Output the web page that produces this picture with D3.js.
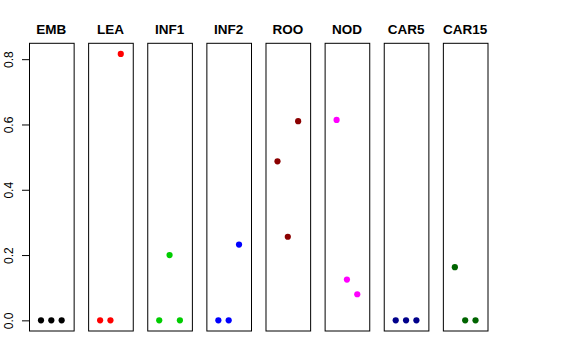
<!DOCTYPE html>
<html>
<head>
<meta charset="utf-8">
<script src="https://cdn.jsdelivr.net/npm/d3@7"></script>
<style>
  body { margin: 0; background: #fff; }
  svg { display: block; }
</style>
</head>
<body>
<div id="chart"></div>
<script>
// tissues, one panel each, three samples per tissue
const tissues = ['EMB', 'LEA', 'INF1', 'INF2', 'ROO', 'NOD', 'CAR5', 'CAR15'];
const colors = ['#000000', '#ff0000', '#00cd00', '#0000ff', '#8b0000', '#ff00ff', '#00008b', '#006400'];
const samples = [1, 2, 3];
const values = [
  [0, 0, 0],
  [0, 0, 0.816],
  [0, 0.200, 0],
  [0, 0, 0.232],
  [0.487, 0.256, 0.610],
  [0.614, 0.125, 0.080],
  [0, 0, 0],
  [0.163, 0, 0]
];
const yTicks = [0, 0.2, 0.4, 0.6, 0.8];

const width = 576, height = 360;
const plotTop = 43.3, plotBottom = 331;

const svg = d3.select('#chart').append('svg')
  .attr('width', width)
  .attr('height', height);

// R-style 4% axis padding
const yMax = d3.max(values.flat());
const yPad = yMax * 0.04;
const y = d3.scaleLinear()
  .domain([0 - yPad, yMax + yPad])
  .range([plotBottom, plotTop]);

const panel = d3.scaleBand()
  .domain(tissues)
  .range([29, 487.5])
  .paddingInner(0.245)
  .paddingOuter(0);

const x = d3.scaleLinear()
  .domain([0 - 0.16, 4 + 0.16])
  .range([0, panel.bandwidth()]);

const panels = svg.selectAll('.panel')
  .data(tissues)
  .enter()
  .append('g')
  .attr('class', 'panel')
  .attr('transform', d => `translate(${panel(d)},0)`);

panels.append('rect')
  .attr('x', 0.5)
  .attr('y', plotTop)
  .attr('width', panel.bandwidth())
  .attr('height', plotBottom - plotTop)
  .attr('fill', 'none')
  .attr('stroke', '#000')
  .attr('stroke-width', 1);

panels.append('text')
  .attr('x', panel.bandwidth() / 2)
  .attr('y', 34)
  .attr('text-anchor', 'middle')
  .attr('font-family', 'Liberation Sans, Arial, sans-serif')
  .attr('font-weight', 'bold')
  .attr('font-size', '13.5px')
  .text(d => d);

panels.selectAll('circle')
  .data((d, i) => samples.map((s, j) => ({ s, v: values[i][j], c: colors[i] })))
  .enter()
  .append('circle')
  .attr('cx', d => x(d.s))
  .attr('cy', d => y(d.v))
  .attr('r', 3.1)
  .attr('fill', d => d.c);

// y axis on the first panel only
const axis = d3.axisLeft(y)
  .tickValues(yTicks)
  .tickFormat(d3.format('.1f'))
  .tickSizeOuter(0)
  .tickSize(7.5);

const ax = svg.append('g')
  .attr('transform', `translate(${panel(tissues[0]) + 0.5},0)`)
  .call(axis);

ax.select('.domain').remove();
ax.selectAll('.tick line').attr('stroke', '#000');
ax.selectAll('.tick text')
  .attr('font-family', 'Liberation Sans, Arial, sans-serif')
  .attr('font-size', '12px')
  .attr('fill', '#000')
  .attr('transform', 'rotate(-90)')
  .attr('x', 0)
  .attr('y', -17)
  .attr('dy', 0)
  .attr('text-anchor', 'middle');
</script>
</body>
</html>
